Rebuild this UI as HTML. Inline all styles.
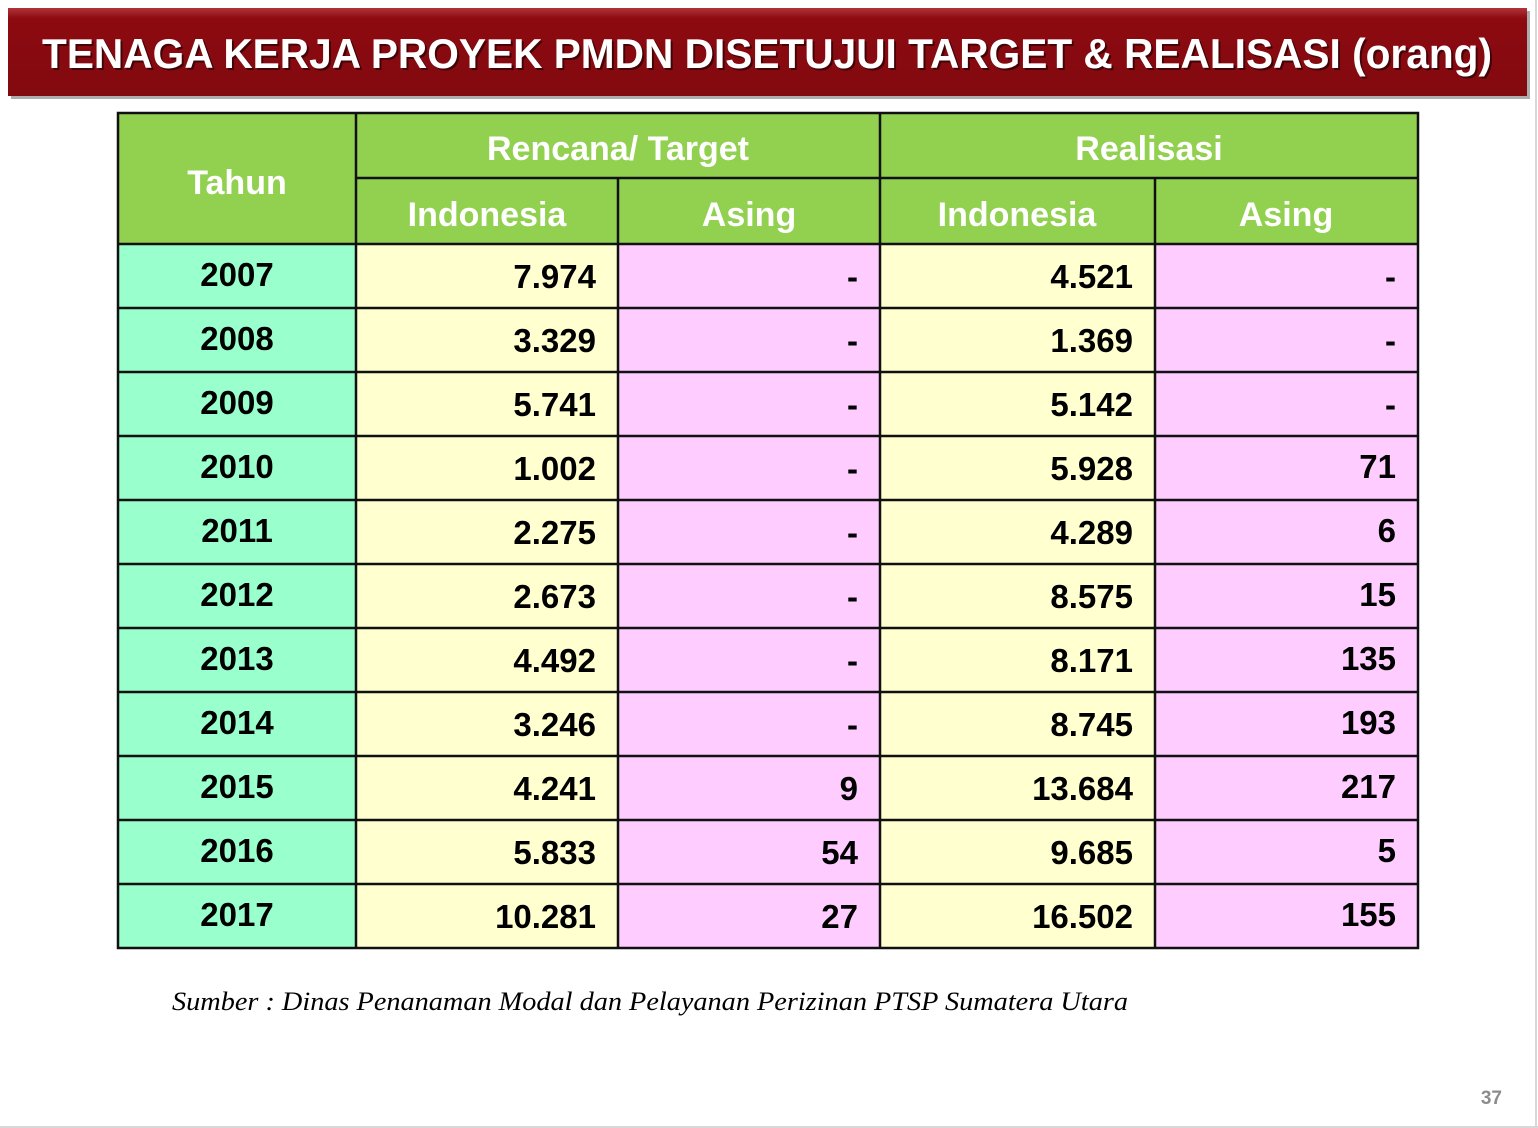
<!DOCTYPE html>
<html><head><meta charset="utf-8"><style>
html,body{margin:0;padding:0;background:#fff;}
svg{display:block;}
.b{font-family:"Liberation Sans",sans-serif;font-weight:bold;}
</style></head><body>
<svg width="1538" height="1128" viewBox="0 0 1538 1128" xmlns="http://www.w3.org/2000/svg">
<defs>
<linearGradient id="tg" x1="0" y1="0" x2="0" y2="1">
<stop offset="0" stop-color="#b0343a"/><stop offset="0.12" stop-color="#8c0a10"/><stop offset="1" stop-color="#820a0f"/>
</linearGradient>
</defs>
<rect width="1538" height="1128" fill="#fff"/>
<line x1="1536" y1="0" x2="1536" y2="1128" stroke="#d8d8d8" stroke-width="2"/>
<line x1="0" y1="1127" x2="1538" y2="1127" stroke="#d8d8d8" stroke-width="2"/>
<rect x="11" y="11" width="1519" height="88" fill="#777" opacity="0.6"/>
<rect x="8" y="8" width="1519" height="88" fill="url(#tg)"/>
<text class="b" x="767" y="68" text-anchor="middle" font-size="42" fill="#000" opacity="0.5" textLength="1450" lengthAdjust="spacingAndGlyphs" transform="translate(2,2)">TENAGA KERJA PROYEK PMDN DISETUJUI TARGET &amp; REALISASI (orang)</text>
<text class="b" x="767" y="68" text-anchor="middle" font-size="42" fill="#fff" textLength="1450" lengthAdjust="spacingAndGlyphs">TENAGA KERJA PROYEK PMDN DISETUJUI TARGET &amp; REALISASI (orang)</text>

<!-- header -->
<rect x="118" y="113" width="1300" height="131" fill="#92d050"/>
<!-- data columns -->
<rect x="118" y="244" width="238" height="704" fill="#99ffcc"/>
<rect x="356" y="244" width="262" height="704" fill="#ffffd0"/>
<rect x="618" y="244" width="262" height="704" fill="#ffccff"/>
<rect x="880" y="244" width="275" height="704" fill="#ffffd0"/>
<rect x="1155" y="244" width="263" height="704" fill="#ffccff"/>

<g stroke="#111" stroke-width="2.5" fill="none">
<rect x="118" y="113" width="1300" height="835"/>
<line x1="356" y1="113" x2="356" y2="948"/>
<line x1="880" y1="113" x2="880" y2="948"/>
<line x1="618" y1="178" x2="618" y2="948"/>
<line x1="1155" y1="178" x2="1155" y2="948"/>
<line x1="356" y1="178" x2="1418" y2="178"/>
<line x1="118" y1="244" x2="1418" y2="244"/>
<line x1="118" y1="308" x2="1418" y2="308"/>
<line x1="118" y1="372" x2="1418" y2="372"/>
<line x1="118" y1="436" x2="1418" y2="436"/>
<line x1="118" y1="500" x2="1418" y2="500"/>
<line x1="118" y1="564" x2="1418" y2="564"/>
<line x1="118" y1="628" x2="1418" y2="628"/>
<line x1="118" y1="692" x2="1418" y2="692"/>
<line x1="118" y1="756" x2="1418" y2="756"/>
<line x1="118" y1="820" x2="1418" y2="820"/>
<line x1="118" y1="884" x2="1418" y2="884"/>
</g>

<g class="b" fill="#fff" font-size="34" text-anchor="middle" style="paint-order:stroke" >
<text x="237" y="194">Tahun</text>
<text x="618" y="160">Rencana/ Target</text>
<text x="1149" y="160">Realisasi</text>
<text x="487" y="226">Indonesia</text>
<text x="749" y="226">Asing</text>
<text x="1017" y="226">Indonesia</text>
<text x="1286" y="226">Asing</text>
</g>

<g class="b" fill="#000" font-size="33">
<g text-anchor="middle">
<text x="237" y="286">2007</text><text x="237" y="350">2008</text><text x="237" y="414">2009</text>
<text x="237" y="478">2010</text><text x="237" y="542">2011</text><text x="237" y="606">2012</text>
<text x="237" y="670">2013</text><text x="237" y="734">2014</text><text x="237" y="798">2015</text>
<text x="237" y="862">2016</text><text x="237" y="926">2017</text>
</g>
<g text-anchor="end">
<text x="596" y="288">7.974</text><text x="596" y="352">3.329</text><text x="596" y="416">5.741</text>
<text x="596" y="480">1.002</text><text x="596" y="544">2.275</text><text x="596" y="608">2.673</text>
<text x="596" y="672">4.492</text><text x="596" y="736">3.246</text><text x="596" y="800">4.241</text>
<text x="596" y="864">5.833</text><text x="596" y="928">10.281</text>

<text x="858" y="288">-</text><text x="858" y="352">-</text><text x="858" y="416">-</text>
<text x="858" y="480">-</text><text x="858" y="544">-</text><text x="858" y="608">-</text>
<text x="858" y="672">-</text><text x="858" y="736">-</text><text x="858" y="800">9</text>
<text x="858" y="864">54</text><text x="858" y="928">27</text>

<text x="1133" y="288">4.521</text><text x="1133" y="352">1.369</text><text x="1133" y="416">5.142</text>
<text x="1133" y="480">5.928</text><text x="1133" y="544">4.289</text><text x="1133" y="608">8.575</text>
<text x="1133" y="672">8.171</text><text x="1133" y="736">8.745</text><text x="1133" y="800">13.684</text>
<text x="1133" y="864">9.685</text><text x="1133" y="928">16.502</text>

<text x="1396" y="288">-</text><text x="1396" y="352">-</text><text x="1396" y="416">-</text>
<text x="1396" y="478">71</text><text x="1396" y="542">6</text><text x="1396" y="606">15</text>
<text x="1396" y="670">135</text><text x="1396" y="734">193</text><text x="1396" y="798">217</text>
<text x="1396" y="862">5</text><text x="1396" y="926">155</text>
</g>
</g>

<text x="172" y="1010" font-family="'Liberation Serif',serif" font-style="italic" font-size="26" fill="#000" textLength="956" lengthAdjust="spacingAndGlyphs">Sumber :  Dinas Penanaman Modal dan Pelayanan Perizinan PTSP Sumatera Utara</text>
<text class="b" x="1502" y="1104" text-anchor="end" font-size="19" fill="#8c8c8c">37</text>
</svg>
</body></html>
